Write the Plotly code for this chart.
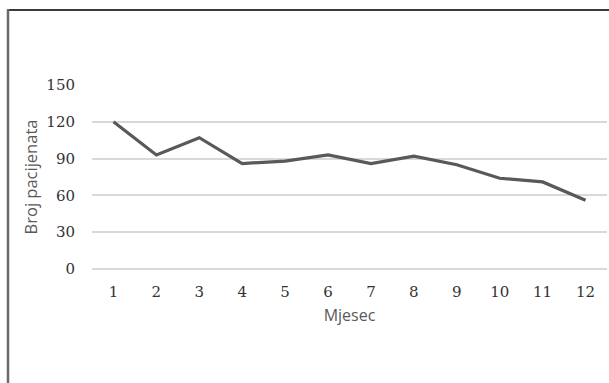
import plotly.graph_objects as go

# Monthly patient counts
months = ["1", "2", "3", "4", "5", "6", "7", "8", "9", "10", "11", "12"]
patients = [120, 93, 107, 86, 88, 93, 86, 92, 85, 74, 71, 56]
y_ticks = [0, 30, 60, 90, 120, 150]

W, H = 609, 383
ML, MR, MT, MB = 92, 2, 85, 114
plot_w = W - ML - MR
plot_h = H - MT - MB


def px_to_paper_x(px):
    return (px - ML) / plot_w


def px_to_paper_y(py):
    return (H - MB - py) / plot_h


fig = go.Figure()
fig.add_trace(go.Scatter(
    x=months,
    y=patients,
    mode="lines",
    line=dict(color="#595959", width=3.2),
    hoverinfo="x+y",
))

fig.update_layout(
    width=W,
    height=H,
    margin=dict(l=ML, r=MR, t=MT, b=MB),
    paper_bgcolor="white",
    plot_bgcolor="white",
    showlegend=False,
    xaxis=dict(
        type="category",
        range=[-0.5, len(months) - 0.5],
        showgrid=False,
        zeroline=False,
        showline=False,
        ticks="",
        tickfont=dict(family="DejaVu Serif", size=15, color="#333333"),
        ticklabelstandoff=12,
        title=dict(text="Mjesec", font=dict(family="Open Sans", size=16, color="#595959"), standoff=9),
    ),
    yaxis=dict(
        range=[0, 150],
        tickvals=y_ticks,
        showgrid=True,
        gridcolor="#d9d9d9",
        gridwidth=1.5,
        zeroline=True,
        zerolinecolor="#d9d9d9",
        zerolinewidth=1.5,
        showline=False,
        ticks="",
        tickfont=dict(family="DejaVu Serif", size=15, color="#333333"),
        ticklabelstandoff=16,
        title=dict(text="Broj pacijenata", font=dict(family="Open Sans", size=16.5, color="#595959"), standoff=4),
    ),
    shapes=[
        # frame around the chart: top and left edges
        dict(type="line", xref="paper", yref="paper",
             x0=px_to_paper_x(7), x1=px_to_paper_x(W + 2),
             y0=px_to_paper_y(10), y1=px_to_paper_y(10),
             line=dict(color="#3a3a3a", width=2)),
        dict(type="line", xref="paper", yref="paper",
             x0=px_to_paper_x(8), x1=px_to_paper_x(8),
             y0=px_to_paper_y(9), y1=px_to_paper_y(H + 2),
             line=dict(color="#6a6a6a", width=2.5)),
    ],
)

fig.write_html("out.html")
